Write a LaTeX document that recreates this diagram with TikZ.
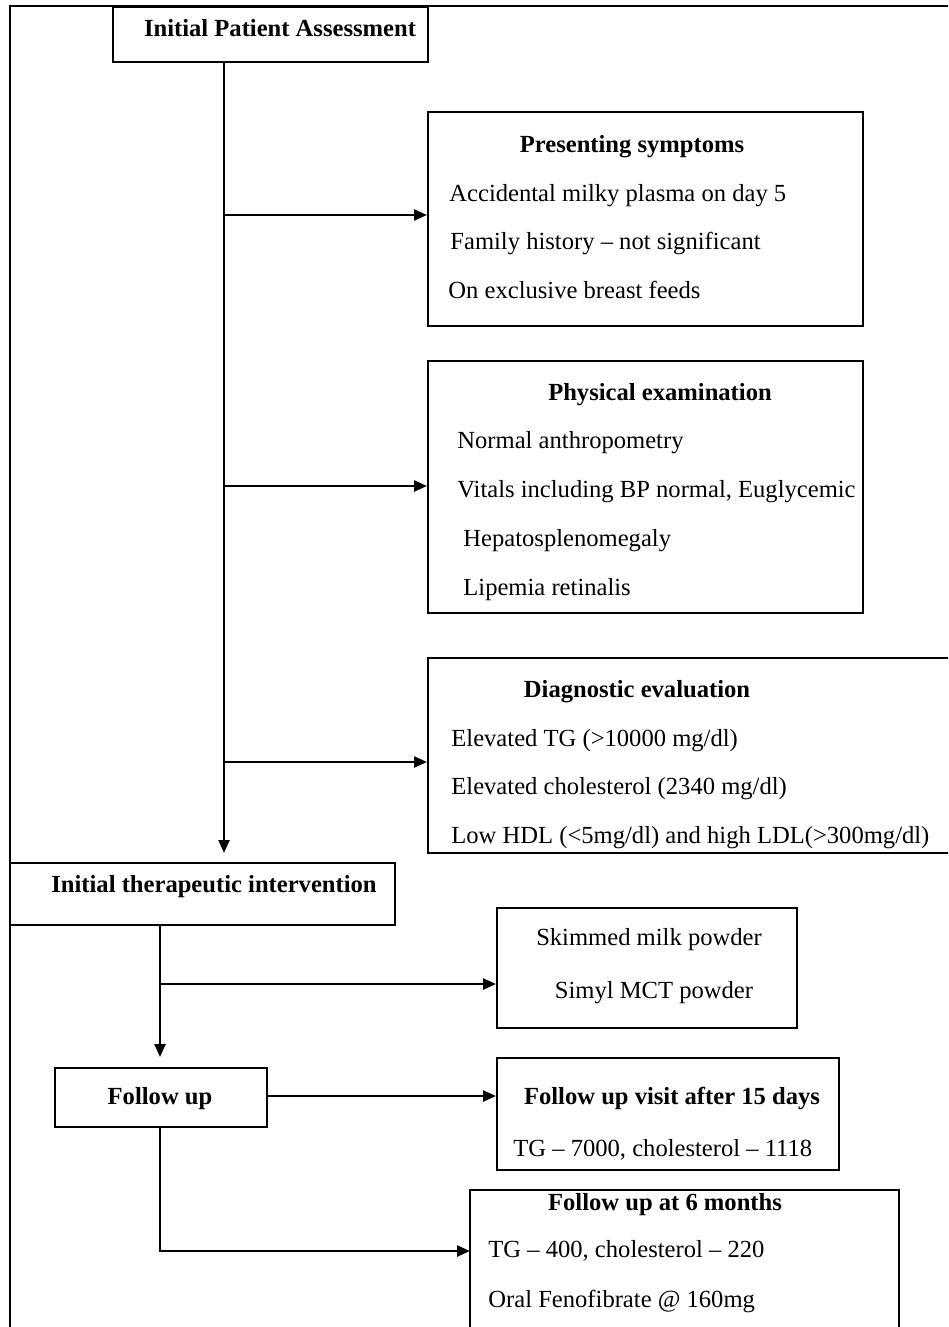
\documentclass[tikz,border=0pt]{standalone}
\usepackage{fontspec}
\setmainfont{Liberation Serif}
\usetikzlibrary{arrows.meta}
\begin{document}
\begin{tikzpicture}[x=0.5pt,y=-0.5pt,
  box/.style={draw, line width=1pt, inner sep=0pt, rectangle},
  conn/.style={line width=1.2pt},
  arr/.style={conn, -{Triangle[length=6.5pt,width=5.5pt]}},
  ttl/.style={font=\fontsize{12.3}{14}\selectfont\bfseries, anchor=base, inner sep=0pt},
  txt/.style={font=\fontsize{12.3}{14}\selectfont, anchor=base west, inner sep=0pt}]
\clip (0,0) rectangle (948,1327);
% outer frame
\draw[line width=0.8pt] (10,1340) -- (10,6) -- (960,6);
% boxes
\node[box, minimum width=157.5pt, minimum height=27.5pt] (A) at (270.5,34.5) {};
\node[box, minimum width=217.5pt, minimum height=107pt] (B) at (645.5,219) {};
\node[box, minimum width=217.5pt, minimum height=126pt] (C) at (645.5,487) {};
\node[box, minimum width=267pt, minimum height=97.5pt] (D) at (695,755.5) {};
\node[box, minimum width=192.5pt, minimum height=31pt] (E) at (202.5,894) {};
\node[box, minimum width=150pt, minimum height=60pt] (F) at (647,968) {};
\node[box, minimum width=106pt, minimum height=29.5pt] (G) at (161,1097.5) {};
\node[box, minimum width=171pt, minimum height=56pt] (H) at (668,1114) {};
\node[box, minimum width=214.5pt, minimum height=75pt] (I) at (684.5,1265) {};
% texts
\node[ttl] (tA) at (280,37) {Initial Patient Assessment};
\node[ttl] (tB) at (632,153) {Presenting symptoms};
\node[txt] (b1t) at (449,201) {Accidental milky plasma on day 5};
\node[txt] (b2t) at (450,249) {Family history -- not significant};
\node[txt] (b3t) at (448,298) {On exclusive breast feeds};
\node[ttl] (tC) at (660,400) {Physical examination};
\node[txt] (c1t) at (457,448) {Normal anthropometry};
\node[txt] (c2t) at (457,497) {Vitals including BP normal, Euglycemic};
\node[txt] (c3t) at (463,546) {Hepatosplenomegaly};
\node[txt] (c4t) at (463,595) {Lipemia retinalis};
\node[ttl] (tD) at (637,697) {Diagnostic evaluation};
\node[txt] (d1t) at (451,746) {Elevated TG (>10000 mg/dl)};
\node[txt] (d2t) at (451,794) {Elevated cholesterol (2340 mg/dl)};
\node[txt] (d3t) at (451,843) {Low HDL (<5mg/dl) and high LDL(>300mg/dl)};
\node[ttl] (tE) at (214,892) {Initial therapeutic intervention};
\node[ttl] (f1t) at (649,945) {\mdseries Skimmed milk powder};
\node[ttl] (f2t) at (654,998) {\mdseries Simyl MCT powder};
\node[ttl] (tG) at (160,1104) {Follow up};
\node[ttl] (tH) at (672,1104) {Follow up visit after 15 days};
\node[txt] (h1t) at (513,1156) {TG -- 7000, cholesterol -- 1118};
\node[ttl] (tI) at (665,1210) {Follow up at 6 months};
\node[txt] (i1t) at (488,1257) {TG -- 400, cholesterol -- 220};
\node[txt] (i2t) at (488,1307) {Oral Fenofibrate @ 160mg};
% connectors
\coordinate (t0) at (224,62);
\coordinate (t1) at (224,853);
\draw[arr] (t0) -- (t1);
\coordinate (bB) at (224,215);
\coordinate (bC) at (224,486);
\coordinate (bD) at (224,762);
\draw[arr] (bB) -- (bB -| B.west);
\draw[arr] (bC) -- (bC -| C.west);
\draw[arr] (bD) -- (bD -| D.west);
\coordinate (u0) at (160,925);
\coordinate (u1) at (160,1057);
\coordinate (u2) at (160,984);
\draw[arr] (u0) -- (u1);
\draw[arr] (u2) -- (u2 -| F.west);
\coordinate (g1) at (267,1096);
\draw[arr] (g1) -- (g1 -| H.west);
\coordinate (g0) at (160,1127);
\coordinate (i0) at (470,1251);
\draw[arr] (g0) |- (i0);
\end{tikzpicture}
\end{document}
